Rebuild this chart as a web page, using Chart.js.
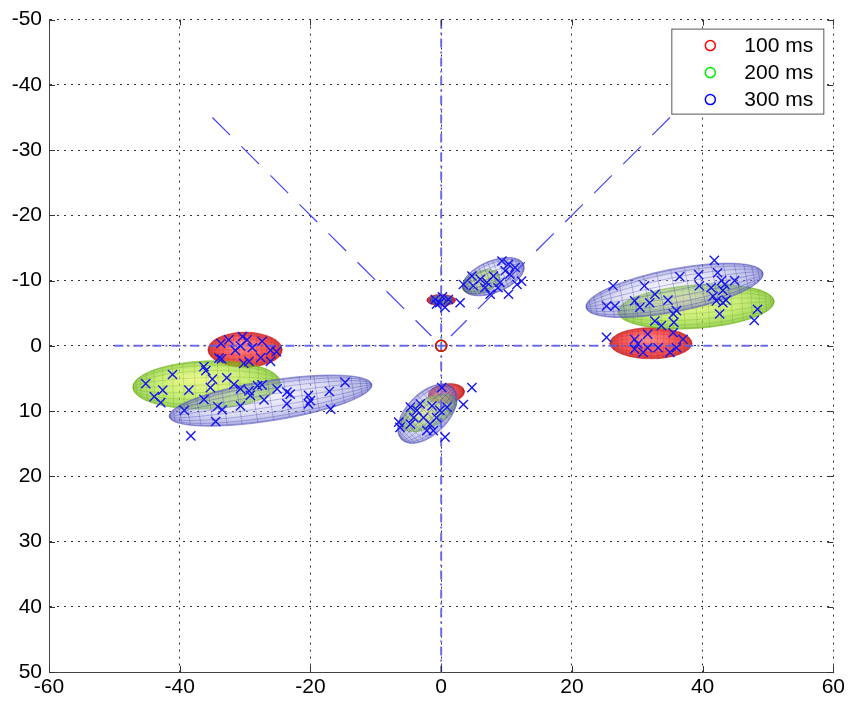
<!DOCTYPE html>
<html>
<head>
<meta charset="utf-8">
<script src="https://cdn.jsdelivr.net/npm/chart.js@4/dist/chart.umd.min.js"></script>
<style>
  html, body { margin: 0; padding: 0; background: #fff; }
  #wrap { width: 848px; height: 701px; }
</style>
</head>
<body>
<div id="wrap"><canvas id="c" width="848" height="701"></canvas></div>
<script>
// ---- data -------------------------------------------------------------
const seriesLabels = ['100 ms', '200 ms', '300 ms'];
const sessionOrigin = [0, 0];

// covariance ellipsoids: [centerX, centerY, semiAxisA, semiAxisB, rotationDeg]
const ellipses100 = [
  [-30.0, 0.6, 5.7, 2.7, 0],
  [0.0, -7.0, 2.2, 0.9, 0],
  [0.8, 7.3, 2.8, 1.5, -8],
  [32.1, -0.4, 6.3, 2.4, 0]
];
const ellipses200 = [
  [-35.9, 6.0, 11.3, 3.7, -2],
  [0.0, -7.0, 1.5, 0.65, 0],
  [6.1, -9.8, 3.05, 1.7, -20],
  [-1.9, 10.3, 4.7, 2.2, -27],
  [39.0, -6.0, 12.0, 3.35, -4]
];
const ellipses300 = [
  [-26.1, 8.4, 15.7, 3.1, -9],
  [0.0, -7.0, 1.75, 0.8, 0],
  [8.0, -10.6, 5.0, 2.45, -22],
  [-2.1, 10.4, 5.6, 3.2, -45],
  [35.7, -8.5, 13.8, 3.3, -11]
];

// single-trial endpoints
const trialsLeft = [
  [-33.7,-0.35],[-32.5,-0.9],[-30.4,-1.4],[-29.7,-0.9],[-27.4,-0.7],[-31.5,0.7],[-30.7,0],[-28.9,0.3],
  [-26.1,0.7],[-25.2,0.9],[-34.0,1.9],[-33.6,2.0],[-30.2,2.7],[-29.4,2.4],[-27.6,1.8],[-26.1,2.4],
  [-45.2,5.8],[-41.1,4.4],[-36.3,3.2],[-36.0,3.8],[-35.0,5.1],[-35.3,6.4],[-32.8,4.9],[-31.7,5.9],
  [-38.6,6.8],[-42.6,6.8],[-43.9,7.8],[-42.9,8.7],[-36.3,8.2],
  [-30.7,6.6],[-29.4,6.9],[-28.1,6.1],[-27.4,6.0],[-29.2,7.6],[-27.1,8.3],[-25.1,6.6],[-23.6,7.1],
  [-23.1,7.4],[-20.3,7.6],[-20.0,8.4],[-20.3,8.9],[-17.1,7.0],[-14.7,5.6],[-16.9,9.7],[-23.6,8.9],
  [-30.7,9.2],[-34.2,9.3],[-33.5,9.8],[-39.3,9.9],[-34.5,11.6],[-38.3,13.8]
];
const trialsUp = [
  [-0.9,-7.1],[-0.2,-6.6],[0.6,-5.9],[1.1,-7.1],[2.9,-6.6],[-0.7,-6.4],[0.2,-7.5]
];
const trialsUpRight = [
  [9.3,-13.0],[10.3,-12.5],[11.3,-12.0],[12.3,-9.9],[10.5,-11.0],[9.8,-11.5],[8.0,-10.7],[7.0,-9.7],
  [6.0,-10.2],[4.7,-10.7],[3.4,-9.4],[4.9,-9.2],[7.5,-7.9],[10.3,-7.9],[8.7,-8.9],[11.6,-9.4],
  [6.7,-8.9],[9.0,-9.7]
];
const trialsDown = [
  [4.7,6.4],[3.4,9.0],[0.6,14.0],[0.1,6.4],[-6.3,12.5],[-6.5,11.7],[-4.7,9.4],[-3.7,9.9],[-2.7,11.0],
  [-1.7,12.0],[-1.2,13.0],[-2.2,13.0],[-4.2,11.0],[-0.2,9.9],[0.9,9.4],[-3.2,8.9],[-1.4,9.2],
  [-0.7,11.0],[-4.7,12.0]
];
const trialsRight = [
  [41.8,-13.1],[42.3,-11.2],[36.5,-10.6],[39.4,-10.9],[42.9,-10.0],[44.9,-10.0],[43.4,-9.4],[39.5,-9.2],
  [41.3,-8.9],[43.1,-8.5],[41.6,-7.6],[42.1,-6.9],[43.1,-6.6],[43.6,-7.0],[42.6,-4.9],[48.4,-5.6],
  [47.9,-3.9],[26.3,-9.2],[31.1,-9.2],[25.3,-6.1],[26.6,-6.1],[29.6,-6.9],[30.4,-5.9],[31.9,-6.6],
  [32.7,-7.9],[34.7,-7.0],[36.0,-5.4],[35.5,-4.9],[32.7,-3.8],[33.7,-3.1],[35.6,-3.6],[35.5,-2.0],
  [25.3,-1.3],[29.6,-1.0],[31.6,-1.8],[37.0,-1.0],[29.6,0.5],[30.9,1.0],[31.6,0.3],[33.2,0.3],
  [35.0,1.0],[36.0,0.3],[30.1,-0.3]
];

// reference guides
const guideHorizontal = [[-50, 0], [50, 0]];
const guideVertical = [[0, -50], [0, 50]];
const guideDiagLeft = [[-35, -35], [-1.5, -1.5]];
const guideDiagRight = [[35, -35], [1.5, -1.5]];

// tick ranges
const xRange = [-60, 60], xStep = 20;
const yRange = [-50, 50], yStep = 10;

// ---- styling -----------------------------------------------------------
const FONT = "'Liberation Sans', Arial, Helvetica, sans-serif";
const seriesColors = ['#ff0000', '#00ee00', '#0000ff'];
const ellipsoidStyles = [
  { hi: 'rgba(255,125,125,0.82)', mid: 'rgba(248,50,50,0.80)', edge: 'rgba(210,25,25,0.82)',
    mesh: 'rgba(160,0,0,0.20)', line: 'rgba(200,30,30,0.5)' },
  { hi: 'rgba(230,244,85,0.66)', mid: 'rgba(170,228,40,0.63)', edge: 'rgba(115,195,20,0.70)',
    mesh: 'rgba(80,125,0,0.22)', line: 'rgba(110,180,20,0.55)' },
  { hi: 'rgba(220,220,248,0.32)', mid: 'rgba(175,175,232,0.42)', edge: 'rgba(115,115,205,0.58)',
    mesh: 'rgba(50,50,170,0.34)', line: 'rgba(90,90,190,0.65)' }
];

const toPts = arr => arr.map(p => ({ x: p[0], y: p[1] }));

// ellipsoid seen side-on: shaded body, ring chords and meridian arcs
function drawEllipsoid(ctx, xs, ys, e, st) {
  const [cx, cy, a, b, ang] = e;
  const px = xs.getPixelForValue(cx), py = ys.getPixelForValue(cy);
  const ux = Math.abs(xs.getPixelForValue(1) - xs.getPixelForValue(0));
  const uy = Math.abs(ys.getPixelForValue(1) - ys.getPixelForValue(0));
  const ra = a * ux, rb = b * uy;
  ctx.save();
  ctx.translate(px, py);
  ctx.rotate(ang * Math.PI / 180);
  ctx.save();
  ctx.scale(ra, rb);
  const g = ctx.createRadialGradient(-0.15, -0.3, 0, 0, 0, 1);
  g.addColorStop(0, st.hi);
  g.addColorStop(0.6, st.mid);
  g.addColorStop(1, st.edge);
  ctx.beginPath();
  ctx.arc(0, 0, 1, 0, Math.PI * 2);
  ctx.fillStyle = g;
  ctx.fill();
  ctx.restore();

  ctx.beginPath();
  ctx.ellipse(0, 0, ra, rb, 0, 0, Math.PI * 2);
  ctx.save();
  ctx.clip();
  ctx.strokeStyle = st.mesh;
  ctx.lineWidth = 0.85;
  const N = 20;
  ctx.beginPath();
  for (let i = 1; i < N; i++) {
    const x = ra * Math.cos(Math.PI * i / N);
    const h = rb * Math.sqrt(Math.max(0, 1 - (x / ra) ** 2));
    ctx.moveTo(x, -h); ctx.lineTo(x, h);
  }
  const S = 40;
  for (let k = -4; k <= 4; k++) {
    const s = Math.sin(k * Math.PI / 10);
    for (let j = 0; j <= S; j++) {
      const t = Math.PI * j / S;
      const x = -ra * Math.cos(t), y = rb * s * Math.sin(t);
      if (j === 0) ctx.moveTo(x, y); else ctx.lineTo(x, y);
    }
  }
  ctx.stroke();
  ctx.restore();

  ctx.beginPath();
  ctx.ellipse(0, 0, ra, rb, 0, 0, Math.PI * 2);
  ctx.strokeStyle = st.line;
  ctx.lineWidth = 0.8;
  ctx.stroke();
  ctx.restore();
}

const ellipsoidPlugin = {
  id: 'ellipsoids',
  beforeDatasetsDraw(chart) {
    const { ctx, chartArea: ca, scales: { x, y } } = chart;
    ctx.save();
    ctx.beginPath();
    ctx.rect(ca.left, ca.top, ca.right - ca.left, ca.bottom - ca.top);
    ctx.clip();
    [ellipses100, ellipses200, ellipses300].forEach((set, k) =>
      set.forEach(e => drawEllipsoid(ctx, x, y, e, ellipsoidStyles[k])));
    ctx.restore();
  }
};

const frameTicksPlugin = {
  id: 'frameTicks',
  afterDatasetsDraw(chart) {
    const { ctx, chartArea: ca, scales: { x, y } } = chart;
    const L = 6;
    ctx.save();
    ctx.strokeStyle = '#333';
    ctx.lineWidth = 1;
    ctx.beginPath();
    x.ticks.forEach(t => {
      const p = Math.round(x.getPixelForValue(t.value)) + 0.5;
      ctx.moveTo(p, ca.bottom); ctx.lineTo(p, ca.bottom - L);
      ctx.moveTo(p, ca.top); ctx.lineTo(p, ca.top + L);
    });
    y.ticks.forEach(t => {
      const p = Math.round(y.getPixelForValue(t.value)) + 0.5;
      ctx.moveTo(ca.left, p); ctx.lineTo(ca.left + L, p);
      ctx.moveTo(ca.right, p); ctx.lineTo(ca.right - L, p);
    });
    ctx.stroke();
    ctx.restore();
  }
};

const boxLegendPlugin = {
  id: 'boxLegend',
  afterDraw(chart) {
    const { ctx, chartArea: ca } = chart;
    const w = 152, h = 85;
    const left = ca.right - 162, top = ca.top + 9;
    ctx.save();
    ctx.fillStyle = '#fff';
    ctx.fillRect(left, top, w, h);
    ctx.strokeStyle = '#555';
    ctx.lineWidth = 1;
    ctx.strokeRect(left + 0.5, top + 0.5, w, h);
    ctx.font = '21px ' + FONT;
    ctx.textBaseline = 'middle';
    ctx.textAlign = 'left';
    seriesLabels.forEach((lab, i) => {
      const cy = top + 17 + i * 27;
      ctx.beginPath();
      ctx.arc(left + 39, cy, 5, 0, Math.PI * 2);
      ctx.strokeStyle = seriesColors[i];
      ctx.lineWidth = 1.5;
      ctx.stroke();
      ctx.fillStyle = '#000';
      ctx.fillText(lab, left + 73, cy + 1);
    });
    ctx.restore();
  }
};

const guideStyle = (data, dash, width, color) => ({
  data: toPts(data), showLine: true, pointRadius: 0, borderColor: color,
  borderWidth: width, borderDash: dash, fill: false
});

const datasets = [
  ...seriesLabels.map((lab, i) => ({
    label: lab, data: toPts([sessionOrigin]), pointStyle: 'circle', pointRadius: 5.5,
    borderColor: seriesColors[i], backgroundColor: 'rgba(0,0,0,0)', borderWidth: 1.5
  })),
  {
    label: 'trials',
    data: toPts([...trialsLeft, ...trialsUp, ...trialsUpRight, ...trialsDown, ...trialsRight]),
    pointStyle: 'crossRot', pointRadius: 6.5, borderColor: '#1515f0', borderWidth: 1.4
  },
  guideStyle(guideHorizontal, [9, 4, 2, 4], 2, 'rgba(95,95,235,0.9)'),
  guideStyle(guideVertical, [9, 4, 2, 4], 2, 'rgba(95,95,235,0.9)'),
  guideStyle(guideDiagLeft, [25, 16], 1.2, '#4545f5'),
  guideStyle(guideDiagRight, [25, 16], 1.2, '#4545f5')
];

new Chart(document.getElementById('c'), {
  type: 'scatter',
  data: { datasets },
  options: {
    responsive: false,
    animation: false,
    devicePixelRatio: 1,
    layout: { padding: { left: 0, top: 18, right: 12, bottom: 0 } },
    plugins: { legend: { display: false }, tooltip: { enabled: false } },
    scales: {
      x: {
        type: 'linear', min: xRange[0], max: xRange[1],
        ticks: { stepSize: xStep, color: '#000', font: { family: FONT, size: 21 }, padding: 3,
                 maxRotation: 0, autoSkip: false },
        grid: { color: '#333', lineWidth: 1, drawTicks: false },
        border: { display: true, color: '#444', width: 1, dash: [2, 5] },
        afterFit(s) { s.height = 29; }
      },
      y: {
        type: 'linear', reverse: true, min: yRange[0], max: yRange[1],
        ticks: { stepSize: yStep, color: '#000', font: { family: FONT, size: 21 }, padding: 7,
                 autoSkip: false },
        grid: { color: '#333', lineWidth: 1, drawTicks: false },
        border: { display: true, color: '#444', width: 1, dash: [2, 5] },
        afterFit(s) { s.width = 49; }
      }
    }
  },
  plugins: [ellipsoidPlugin, frameTicksPlugin, boxLegendPlugin]
});
</script>
</body>
</html>
